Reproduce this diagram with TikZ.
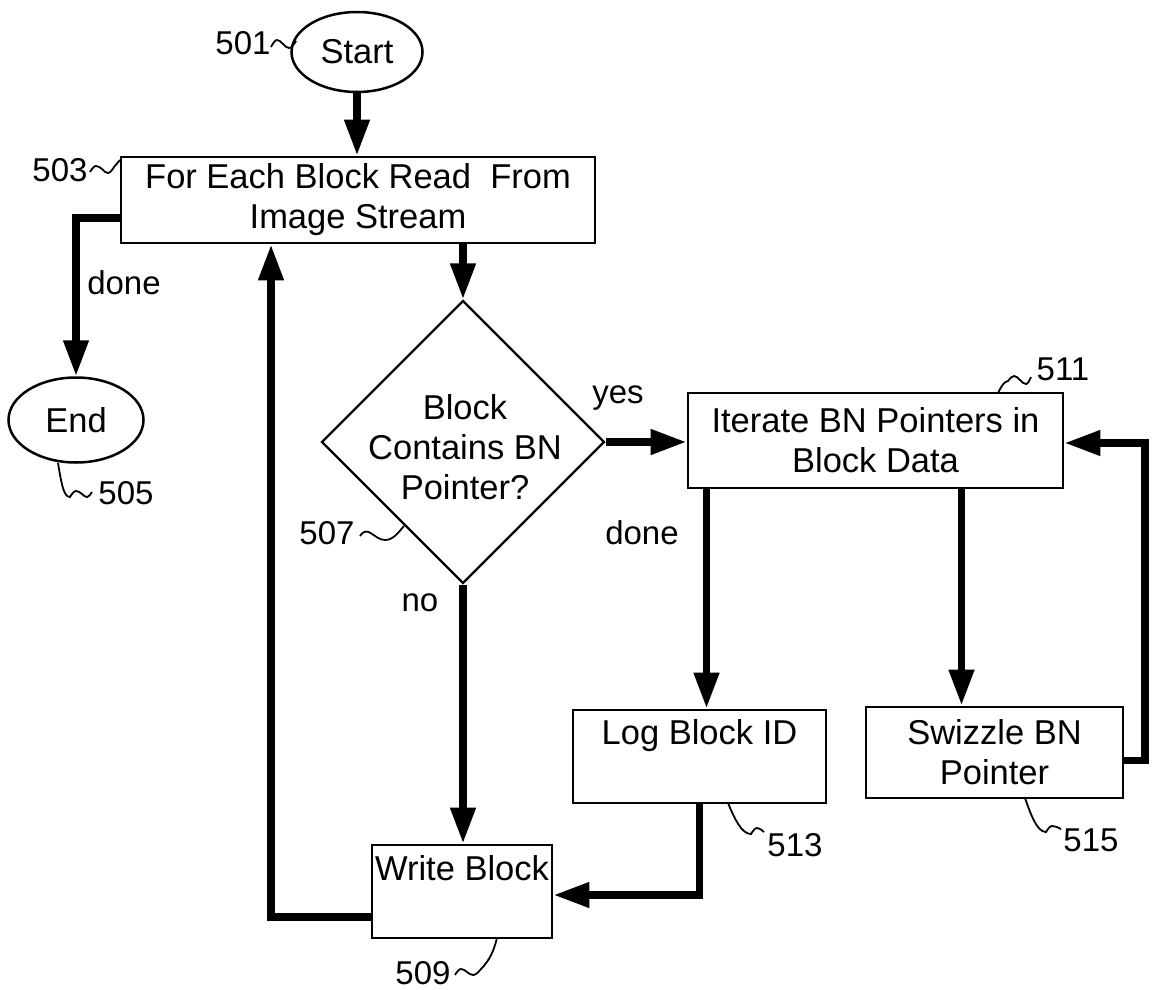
\documentclass[tikz,border=0pt]{standalone}
\usepackage{fontspec}
\setmainfont{Liberation Sans}
\usetikzlibrary{arrows.meta,shapes.geometric}
\begin{document}
\begin{tikzpicture}[x=1pt,y=-1pt,
  box/.style={draw,line width=2.8pt,rectangle,inner sep=0pt,align=center,font=\fontsize{34.5}{40}\selectfont},
  term/.style={draw,line width=2.5pt,ellipse,inner sep=0pt,font=\fontsize{34.5}{40}\selectfont},
  flow/.style={line width=7.5pt,-{Triangle[length=36pt,width=24pt]}},
  lbl/.style={font=\fontsize{33}{38}\selectfont,inner sep=0pt},
  lead/.style={line width=1.8pt},
]
\useasboundingbox (0,0) rectangle (1157,990);

% nodes
\node[term,minimum width=131pt,minimum height=80pt] (start) at (357,52) {Start};
\node[box,minimum width=474pt,minimum height=86pt] (b503) at (358,200) {For Each Block Read\ \ From\\Image Stream};
\node[term,minimum width=135pt,minimum height=85pt] (end) at (76,420) {End};
\node[draw,diamond,line width=2.2pt,inner sep=0pt,minimum width=283pt,minimum height=283pt] (dia) at (463,442) {};
\node[align=center,inner sep=0pt,font=\fontsize{34.5}{40}\selectfont] (diat) at (465,447) {Block\\Contains BN\\Pointer?};
\node[box,minimum width=375pt,minimum height=95pt] (b511) at (875.5,440.5) {Iterate BN Pointers in\\Block Data};
\node[box,minimum width=253pt,minimum height=93pt,text height=34pt,text depth=59pt] (log) at (699.5,756.5) {Log Block ID};
\node[box,minimum width=257pt,minimum height=91pt] (swz) at (994.5,752.5) {Swizzle BN\\Pointer};
\node[box,minimum width=180pt,minimum height=93pt,text height=35pt,text depth=58pt] (write) at (462,891.5) {Write Block};

\coordinate (loopx) at (271,0);
\coordinate (loopr) at (1145,0);

% labels
\node[lbl] (l501) at (243,43) {501};
\node[lbl] (l503) at (60,170) {503};
\node[lbl] (l505) at (126,493) {505};
\node[lbl] (l507) at (327,533) {507};
\node[lbl] (l509) at (423,973) {509};
\node[lbl] (l511) at (1063,369) {511};
\node[lbl] (l513) at (795,845) {513};
\node[lbl] (l515) at (1091,840) {515};
\node[lbl] (tdone1) at (124,283) {done};
\node[lbl] (tdone2) at (642,533) {done};
\node[lbl] (tyes) at (618,398) {yes};
\node[lbl] (tno) at (420,603) {no};

% connectors
\draw[flow] (start.south) -- (start.south |- b503.north);
\draw[flow] ([yshift=-18pt]b503.west) -| (end.north);
\draw[flow] (b503.south -| dia.north) -- (dia.north);
\draw[flow] (dia.east) -- (dia.east -| b511.west);
\draw[flow] (dia.south) -- (dia.south |- write.north);
\draw[flow] ([xshift=7pt]log.north |- b511.south) -- ([xshift=7pt]log.north);
\draw[flow] ([xshift=-33pt]swz.north |- b511.south) -- ([xshift=-33pt]swz.north);
\draw[flow] ([yshift=-8pt]swz.east) -| ([yshift=-2.5pt]b511.east -| loopr) -- ([yshift=-2.5pt]b511.east);
\draw[flow] (log.south) |- ([yshift=-3.5pt]write.east);
\draw[flow] ([yshift=-25.5pt]write.west) -| (loopx |- b503.south);

% leader squiggles
\draw[lead] (271,47) sin (277,40) cos (283,44) sin (289,48) cos (296,41);
\draw[lead] (90,172) sin (96,166) cos (102,169) sin (108,173) cos (114,167) -- (120,160);
\draw[lead] (58,463) .. controls (61,480) and (63,497) .. (70,497) sin (76,491) cos (82,494) sin (87,497) cos (92,492);
\draw[lead] (360,536) .. controls (368,524) and (374,540) .. (385,540) .. controls (393,540) and (398,533) .. (404,526);
\draw[lead] (455,975) sin (461,969) cos (467,972) sin (473,975) cos (481,969) .. controls (490,960) and (494,950) .. (497,938);
\draw[lead] (998,393) .. controls (1002,385) and (1004,382) .. (1008,381) sin (1014,376) cos (1020,380) sin (1026,384) cos (1031,377);
\draw[lead] (728,803) .. controls (735,820) and (742,834) .. (751,834) sin (757,828) cos (764,832);
\draw[lead] (1025,798) .. controls (1031,815) and (1037,832) .. (1046,832) sin (1052,826) cos (1061,829);
\end{tikzpicture}
\end{document}
